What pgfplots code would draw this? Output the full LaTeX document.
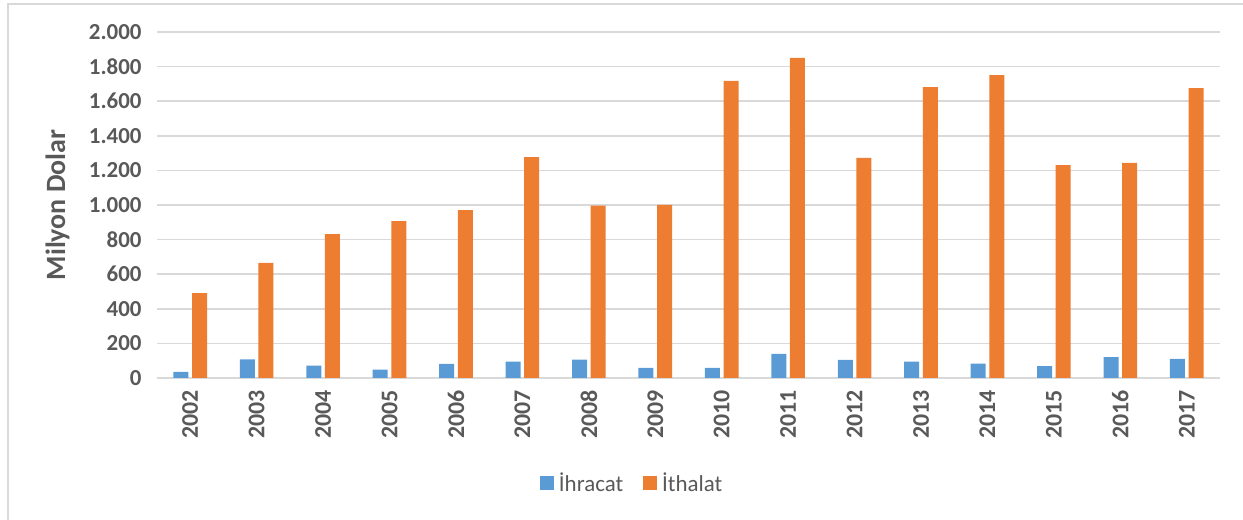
\documentclass[border=0pt]{standalone}
\usepackage{pgfplots}
\pgfplotsset{compat=1.18}
\usepackage{fontspec}
\setmainfont{Carlito}
\definecolor{cblue}{HTML}{5B9BD5}
\definecolor{corange}{HTML}{ED7D31}
\definecolor{ctext}{HTML}{595959}
\definecolor{cgrid}{HTML}{D9D9D9}
\begin{document}
\begin{tikzpicture}[x=1bp,y=1bp]
\useasboundingbox (0,0) rectangle (1243,520);
\draw[cgrid, line width=1.5bp] (8,0) -- (8,516) -- (1243,516);
\begin{axis}[
  at={(157bp,142bp)}, anchor=south west,
  scale only axis, width=1063bp, height=346bp,
  ybar=3.6bp, bar width=15bp,
  xmin=-0.5, xmax=15.5, ymin=0, ymax=2000,
  xtick={0,...,15},
  xticklabels={2002,2003,2004,2005,2006,2007,2008,2009,2010,2011,2012,2013,2014,2015,2016,2017},
  ytick={0,200,...,2000},
  yticklabels={0,200,400,600,800,1.000,1.200,1.400,1.600,1.800,2.000},
  xticklabel style={rotate=90, anchor=east, font=\fontsize{24}{24}\selectfont\bfseries, text=ctext},
  xticklabel shift=9bp,
  yticklabel style={font=\fontsize{23}{23}\selectfont\bfseries, text=ctext},
  yticklabel shift=12bp,
  major tick length=0pt,
  xtick style={draw=none}, ytick style={draw=none},
  ymajorgrids, grid style={cgrid, line width=1.5bp},
  axis line style={draw=none},
  axis x line*=bottom, axis y line*=left,
  x axis line style={draw=cgrid, line width=1.5bp},
  y axis line style={draw=none},
  ylabel={Milyon Dolar},
  ylabel style={font=\fontsize{28}{28}\selectfont\bfseries, text=ctext, at={(-84bp,0.5)}, anchor=south, rotate=0},
  legend style={at={(0.447,-0.303)}, anchor=center, draw=none, fill=none,
    legend columns=2, font=\fontsize{23}{23}\selectfont, text=ctext,
    /tikz/every odd column/.append style={column sep=3bp},
    /tikz/every even column/.append style={column sep=18bp}},
  legend image code/.code={\fill[#1] (0bp,-7bp) rectangle (14bp,7bp);},
  clip=false,
]
\addplot[fill=cblue, draw=none] coordinates {
(0,36) (1,108) (2,71) (3,48) (4,81) (5,94) (6,106) (7,58)
(8,58) (9,140) (10,104) (11,94) (12,83) (13,69) (14,120) (15,110)};
\addplot[fill=corange, draw=none] coordinates {
(0,491) (1,665) (2,832) (3,907) (4,971) (5,1277) (6,996) (7,1000)
(8,1717) (9,1850) (10,1272) (11,1682) (12,1751) (13,1231) (14,1243) (15,1676)};
\legend{İhracat, İthalat}
\end{axis}
\end{tikzpicture}
\end{document}
